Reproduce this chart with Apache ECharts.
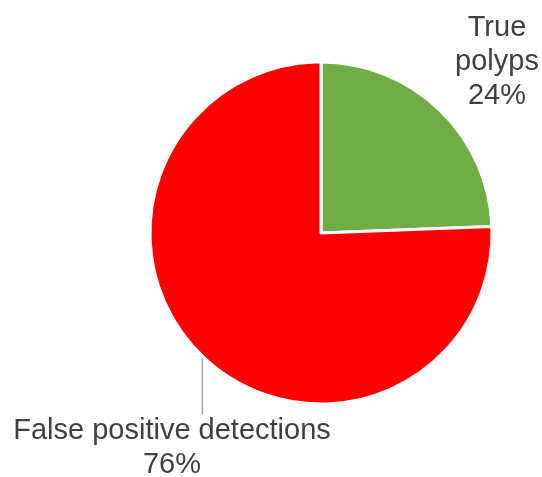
<!DOCTYPE html>
<html><head><meta charset="utf-8">
<script src="https://cdn.jsdelivr.net/npm/echarts@6/dist/echarts.min.js"></script>
<style>html,body{margin:0;padding:0;background:#fff}#c{width:542px;height:477px}</style>
</head><body><div id="c"></div>
<script>
const categories = ["True polyps", "False positive detections"];
const labelTexts = ["True\npolyps", "False positive detections"];
const values = [24.4, 75.6];
const colors = ["#70AD47", "#FF0000"];
const labelSpots = [[497, 62, false], [172, 448, true]];

const chart = echarts.init(document.getElementById('c'), null, {renderer: 'canvas'});
chart.setOption({
  animation: false,
  series: [{
    type: 'pie',
    center: [321, 233],
    radius: [0, 171],
    startAngle: 90,
    clockwise: true,
    itemStyle: {borderColor: '#fff', borderWidth: 3},
    label: {
      show: true, position: 'outside', overflow: 'none',
      fontFamily: 'Liberation Sans, Arial, sans-serif', fontSize: 29,
      color: '#404040', lineHeight: 34, align: 'center',
      formatter: p => labelTexts[p.dataIndex] + '\n' + Math.round(values[p.dataIndex]) + '%'
    },
    labelLine: {show: true, length: 10, length2: 0, lineStyle: {color: '#A6A6A6', width: 1.5}},
    labelLayout: function (p) {
      const s = labelSpots[p.dataIndex];
      const out = {x: s[0], y: s[1], align: 'center', verticalAlign: 'middle'};
      if (s[2] && p.labelLinePoints) {
        const a = p.labelLinePoints[0];
        out.labelLinePoints = [[a[0], a[1]], [a[0], s[1] - 34]];
      }
      return out;
    },
    data: categories.map((c, i) => ({
      name: c, value: values[i], itemStyle: {color: colors[i]},
      labelLine: {show: labelSpots[i][2]}
    }))
  }]
});
</script></body></html>
